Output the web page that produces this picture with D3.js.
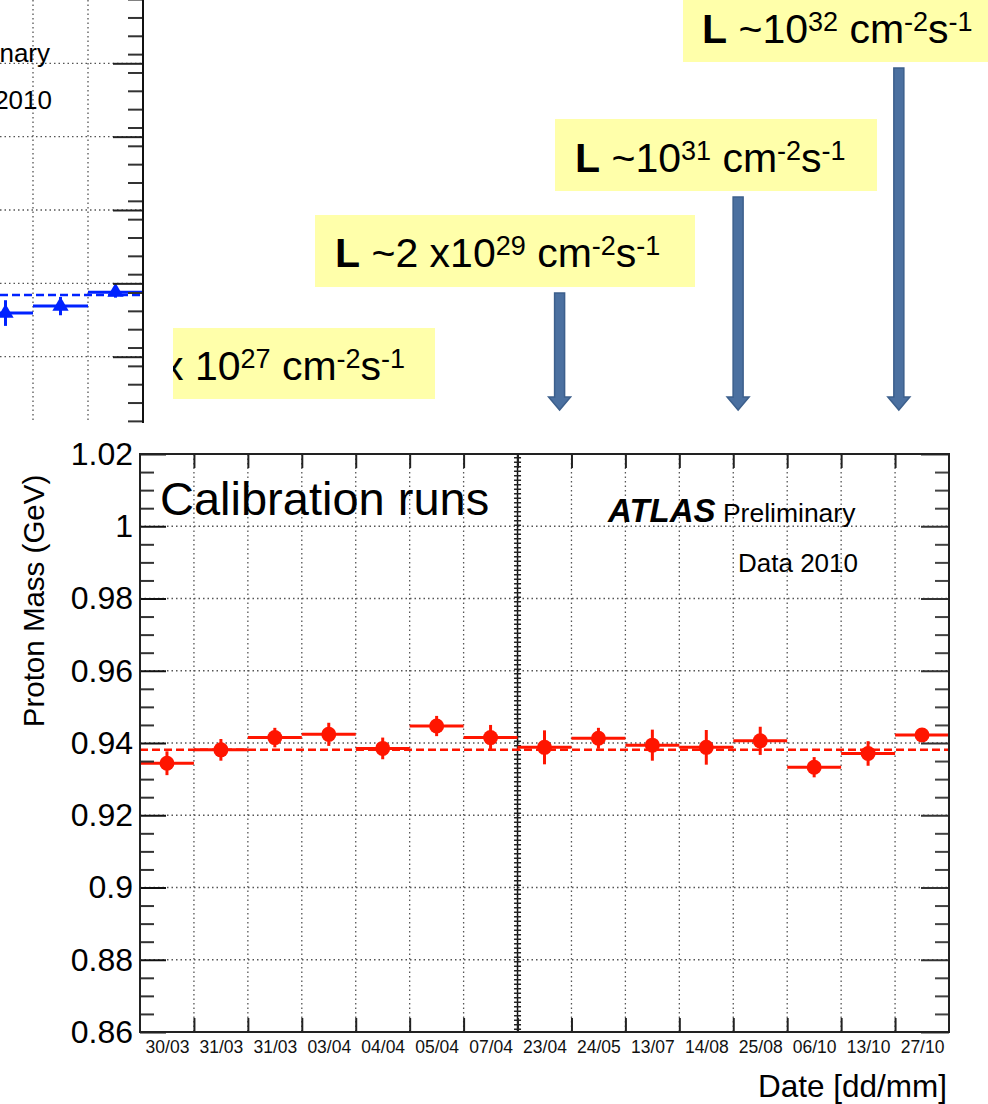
<!DOCTYPE html>
<html>
<head>
<meta charset="utf-8">
<script src="https://cdn.jsdelivr.net/npm/d3@7"></script>
<style>
  body { margin: 0; background: #fff; }
  svg { display: block; font-family: "Liberation Sans", Arial, Helvetica, sans-serif; }
</style>
</head>
<body>
<div id="chart"></div>
<script>
// calibration runs, one bin per run
const dates = ["30/03", "31/03", "31/03", "03/04", "04/04", "05/04", "07/04", "23/04",
               "24/05", "13/07", "14/08", "25/08", "06/10", "13/10", "27/10"];
const protonMass = [0.9344, 0.9381, 0.9415, 0.9424, 0.9385, 0.9447, 0.9415, 0.9388,
                    0.9413, 0.9394, 0.9388, 0.9406, 0.9333, 0.9371, 0.9422];
const protonErr = [0.0033, 0.0030, 0.0027, 0.0032, 0.0030, 0.0028, 0.0035, 0.0047,
                   0.0029, 0.0043, 0.0048, 0.0039, 0.0028, 0.0034, 0.0017];
const protonRef = 0.9381;
const yTicks = [0.86, 0.88, 0.90, 0.92, 0.94, 0.96, 0.98, 1.00, 1.02];

// cut-off panel above (only its last bins are visible)
const upperBins = [0, 1, 2];
const upperMass = [1.1119, 1.1138, 1.1176];
const upperErr = [0.0035, 0.0025, 0.0015];
const upperRef = 1.1168;
const upperTicks = [1.10, 1.12, 1.14, 1.16, 1.18];

// luminosity labels
const lumiText = [
  [{t: "x 10"}, {t: "27", sup: 1}, {t: " cm"}, {t: "-2", sup: 1}, {t: "s"}, {t: "-1", sup: 1}],
  [{t: "L", b: 1}, {t: " ~2 x10"}, {t: "29", sup: 1}, {t: " cm"}, {t: "-2", sup: 1}, {t: "s"}, {t: "-1", sup: 1}],
  [{t: "L", b: 1}, {t: " ~10"}, {t: "31", sup: 1}, {t: " cm"}, {t: "-2", sup: 1}, {t: "s"}, {t: "-1", sup: 1}],
  [{t: "L", b: 1}, {t: " ~10"}, {t: "32", sup: 1}, {t: " cm"}, {t: "-2", sup: 1}, {t: "s"}, {t: "-1", sup: 1}]
];

const w = 988;
const h = 1104;
const plot = {left: 140, right: 949, top: 454, bottom: 1032};

// label boxes and arrows (layout only)
const boxes = [
  {x: 173, y: 328, w: 262, h: 71, tx: 163, ty: 380},
  {x: 315, y: 215, w: 380, h: 72, tx: 335, ty: 267},
  {x: 555, y: 119, w: 322, h: 72, tx: 575, ty: 172},
  {x: 683, y: -2, w: 310, h: 64, tx: 702, ty: 43}
];
const arrows = [
  {bin: 7.78, top: 293},
  {bin: 11.09, top: 197},
  {bin: 14.07, top: 68}
];

const svg = d3.select("#chart")
  .append("svg")
  .attr("width", w)
  .attr("height", h);

svg.append("rect").attr("width", w).attr("height", h).attr("fill", "#fff");

const xScale = d3.scaleLinear().domain([0, dates.length]).range([plot.left, plot.right]);
const yScale = d3.scaleLinear().domain([0.86, 1.02]).range([plot.bottom, plot.top]);

// ---------- upper (cut-off) panel ----------
const up = svg.append("g");
const xU = d3.scaleLinear().domain([0, 3]).range([-22, 143]);
const yU = d3.scaleLinear().domain([1.10, 1.18]).range([356.7, 63.3]);
const upBottom = 423;

up.selectAll(".ugh")
  .data(upperTicks)
  .enter()
  .append("line")
  .attr("x1", 0).attr("x2", xU(3))
  .attr("y1", d => yU(d)).attr("y2", d => yU(d))
  .attr("stroke", "#555").attr("stroke-width", 1.3).attr("stroke-dasharray", "1.5,3");

up.selectAll(".ugv")
  .data([1, 2])
  .enter()
  .append("line")
  .attr("x1", d => xU(d)).attr("x2", d => xU(d))
  .attr("y1", 0).attr("y2", upBottom)
  .attr("stroke", "#555").attr("stroke-width", 1.3).attr("stroke-dasharray", "1.5,3");

// ends of the other panel's labels, cut by the picture's edge as in the original
up.append("text").attr("x", 50).attr("y", 62).attr("text-anchor", "end")
  .attr("font-size", 26).text("ATLAS Preliminary");
up.append("text").attr("x", 52).attr("y", 109).attr("text-anchor", "end")
  .attr("font-size", 26).text("Data 2010");

up.append("line")
  .attr("x1", 0).attr("x2", xU(3))
  .attr("y1", yU(upperRef)).attr("y2", yU(upperRef))
  .attr("stroke", "#0022ff").attr("stroke-width", 2.5).attr("stroke-dasharray", "8,4");

up.selectAll(".uhb")
  .data(upperBins)
  .enter()
  .append("line")
  .attr("x1", d => xU(d)).attr("x2", d => xU(d + 1))
  .attr("y1", (d, i) => yU(upperMass[i])).attr("y2", (d, i) => yU(upperMass[i]))
  .attr("stroke", "#0022ff").attr("stroke-width", 3);

up.selectAll(".uvb")
  .data(upperBins)
  .enter()
  .append("line")
  .attr("x1", d => xU(d + 0.5)).attr("x2", d => xU(d + 0.5))
  .attr("y1", (d, i) => yU(upperMass[i] - upperErr[i]))
  .attr("y2", (d, i) => yU(upperMass[i] + upperErr[i]))
  .attr("stroke", "#0022ff").attr("stroke-width", 3);

up.selectAll(".utri")
  .data(upperBins)
  .enter()
  .append("path")
  .attr("d", d3.symbol(d3.symbolTriangle, 115))
  .attr("transform", (d, i) => `translate(${xU(d + 0.5)},${yU(upperMass[i])})`)
  .attr("fill", "#0022ff");

up.append("g")
  .attr("transform", `translate(${xU(3)},0)`)
  .call(d3.axisLeft(yU).tickValues(d3.range(1.0825, 1.2, 0.005)).tickSize(15).tickFormat(""))
  .call(g => g.select(".domain").remove())
  .call(g => g.selectAll("line").attr("stroke", "#333").attr("stroke-width", 2));
up.append("g")
  .attr("transform", `translate(${xU(3)},0)`)
  .call(d3.axisLeft(yU).tickValues(upperTicks).tickSize(30).tickFormat(""))
  .call(g => g.select(".domain").remove())
  .call(g => g.selectAll("line").attr("stroke", "#222").attr("stroke-width", 2));
up.append("line")
  .attr("x1", xU(3)).attr("x2", xU(3)).attr("y1", 0).attr("y2", upBottom)
  .attr("stroke", "#111").attr("stroke-width", 2);

// ---------- luminosity labels ----------
const defs = svg.append("defs");
boxes.forEach((b, i) => {
  defs.append("clipPath").attr("id", "clip" + i)
    .append("rect").attr("x", b.x).attr("y", b.y).attr("width", b.w).attr("height", b.h);
  svg.append("rect")
    .attr("x", b.x).attr("y", b.y).attr("width", b.w).attr("height", b.h)
    .attr("fill", "#ffffaa");
  const txt = svg.append("text")
    .attr("x", b.tx).attr("y", b.ty)
    .attr("font-size", 41)
    .attr("clip-path", `url(#clip${i})`);
  let raised = false;
  lumiText[i].forEach(p => {
    const ts = txt.append("tspan").text(p.t);
    if (p.b) ts.attr("font-weight", "bold");
    if (p.sup && !raised) { ts.attr("dy", -12); raised = true; }
    else if (!p.sup && raised) { ts.attr("dy", 12); raised = false; }
    if (p.sup) ts.attr("font-size", 27);
  });
});

arrows.forEach(a => {
  const x = xScale(a.bin);
  const tip = 410;
  const sw = 5, hw = 11, hh = 13;
  const path = d3.path();
  path.moveTo(x - sw, a.top);
  path.lineTo(x + sw, a.top);
  path.lineTo(x + sw, tip - hh);
  path.lineTo(x + hw, tip - hh);
  path.lineTo(x, tip);
  path.lineTo(x - hw, tip - hh);
  path.lineTo(x - sw, tip - hh);
  path.closePath();
  svg.append("path")
    .attr("d", path.toString())
    .attr("fill", "#4b70a0")
    .attr("stroke", "#3c5f8c")
    .attr("stroke-width", 1.5);
});

// ---------- main panel ----------
const g = svg.append("g");

g.selectAll(".gh")
  .data(yTicks.slice(1, -1))
  .enter()
  .append("line")
  .attr("x1", plot.left).attr("x2", plot.right)
  .attr("y1", d => yScale(d)).attr("y2", d => yScale(d))
  .attr("stroke", "#555").attr("stroke-width", 1.3).attr("stroke-dasharray", "1.5,3");

g.selectAll(".gv")
  .data(d3.range(1, dates.length).filter(d => d !== 7))
  .enter()
  .append("line")
  .attr("x1", d => xScale(d)).attr("x2", d => xScale(d))
  .attr("y1", plot.top).attr("y2", plot.bottom)
  .attr("stroke", "#555").attr("stroke-width", 1.3).attr("stroke-dasharray", "1.5,3");

// separator between early and later runs
g.append("line")
  .attr("x1", xScale(7)).attr("x2", xScale(7))
  .attr("y1", plot.top).attr("y2", plot.bottom)
  .attr("stroke", "#111").attr("stroke-width", 1.5);
g.append("line")
  .attr("x1", xScale(7)).attr("x2", xScale(7))
  .attr("y1", plot.top + 3).attr("y2", plot.bottom)
  .attr("stroke", "#222").attr("stroke-width", 7).attr("stroke-dasharray", "1.5,3");

// reference value
g.append("line")
  .attr("x1", plot.left).attr("x2", plot.right)
  .attr("y1", yScale(protonRef)).attr("y2", yScale(protonRef))
  .attr("stroke", "#ff1500").attr("stroke-width", 2.5).attr("stroke-dasharray", "8,4");

g.selectAll(".hbar")
  .data(protonMass)
  .enter()
  .append("line")
  .attr("x1", (d, i) => xScale(i)).attr("x2", (d, i) => xScale(i + 1))
  .attr("y1", d => yScale(d)).attr("y2", d => yScale(d))
  .attr("stroke", "#ff1500").attr("stroke-width", 3);

g.selectAll(".vbar")
  .data(protonMass)
  .enter()
  .append("line")
  .attr("x1", (d, i) => xScale(i + 0.5)).attr("x2", (d, i) => xScale(i + 0.5))
  .attr("y1", (d, i) => yScale(d - protonErr[i])).attr("y2", (d, i) => yScale(d + protonErr[i]))
  .attr("stroke", "#ff1500").attr("stroke-width", 3);

g.selectAll(".dot")
  .data(protonMass)
  .enter()
  .append("circle")
  .attr("cx", (d, i) => xScale(i + 0.5))
  .attr("cy", d => yScale(d))
  .attr("r", 7.5)
  .attr("fill", "#ff1500");

// axes (ticks inward, ROOT style)
const styleTicks = (sel, col) => sel
  .call(s => s.select(".domain").remove())
  .call(s => s.selectAll("line").attr("stroke", col).attr("stroke-width", 2));

const minorY = d3.range(0.865, 1.02, 0.005).filter(v => Math.abs(Math.round(v * 50) - v * 50) > 0.01);

g.append("g").attr("transform", `translate(${plot.left},0)`)
  .call(d3.axisLeft(yScale).tickValues(minorY).tickSize(-14).tickFormat(""))
  .call(styleTicks, "#333");
g.append("g").attr("transform", `translate(${plot.left},0)`)
  .call(d3.axisLeft(yScale).tickValues(yTicks).tickSize(-26).tickPadding(7)
    .tickFormat(d => d3.format("")(+d.toFixed(2))))
  .call(styleTicks, "#111")
  .call(s => s.selectAll("text").attr("font-size", 32).attr("fill", "#000")
    .attr("font-family", "Liberation Sans, Arial, sans-serif"));

g.append("g").attr("transform", `translate(${plot.right},0)`)
  .call(d3.axisRight(yScale).tickValues(minorY).tickSize(-14).tickFormat(""))
  .call(styleTicks, "#444");
g.append("g").attr("transform", `translate(${plot.right},0)`)
  .call(d3.axisRight(yScale).tickValues(yTicks).tickSize(-28).tickFormat(""))
  .call(styleTicks, "#333");

g.append("g").attr("transform", `translate(0,${plot.bottom})`)
  .call(d3.axisBottom(xScale).tickValues(d3.range(1, dates.length)).tickSize(-14).tickFormat(""))
  .call(styleTicks, "#222");
g.append("g").attr("transform", `translate(0,${plot.top})`)
  .call(d3.axisTop(xScale).tickValues(d3.range(1, dates.length)).tickSize(-14).tickFormat(""))
  .call(styleTicks, "#222");

g.append("g").attr("transform", `translate(0,${plot.bottom})`)
  .call(d3.axisBottom(xScale).tickValues(d3.range(dates.length).map(i => i + 0.5))
    .tickSize(0).tickPadding(9).tickFormat((d, i) => dates[i]))
  .call(s => s.select(".domain").remove())
  .call(s => s.selectAll("text").attr("font-size", 17.5).attr("fill", "#111")
    .attr("font-family", "Liberation Sans, Arial, sans-serif"));

// frame
g.append("rect")
  .attr("x", plot.left).attr("y", plot.top)
  .attr("width", plot.right - plot.left).attr("height", plot.bottom - plot.top)
  .attr("fill", "none").attr("stroke", "#222").attr("stroke-width", 2);

// titles
svg.append("text")
  .attr("text-anchor", "middle")
  .attr("transform", "translate(44," + 601 + ")rotate(-90)")
  .attr("font-size", 29.5)
  .text("Proton Mass (GeV)");

svg.append("text")
  .attr("text-anchor", "end")
  .attr("x", 947).attr("y", 1097)
  .attr("font-size", 31.5)
  .text("Date [dd/mm]");

svg.append("text")
  .attr("x", 160).attr("y", 515)
  .attr("font-size", 47)
  .text("Calibration runs");

const atl = svg.append("text").attr("x", 608).attr("y", 522);
atl.append("tspan").attr("font-size", 33).attr("font-weight", "bold").attr("font-style", "italic").text("ATLAS");
atl.append("tspan").attr("font-size", 26.5).text(" Preliminary");

svg.append("text")
  .attr("x", 858).attr("y", 572).attr("text-anchor", "end")
  .attr("font-size", 26)
  .text("Data 2010");
</script>
</body>
</html>
